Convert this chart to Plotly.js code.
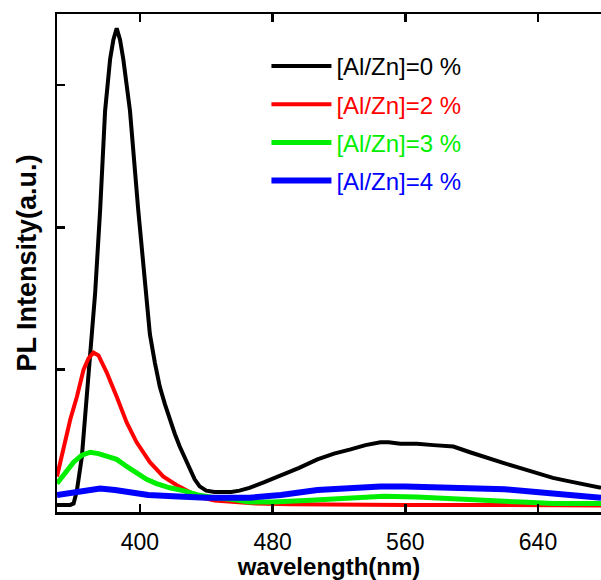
<!DOCTYPE html>
<html>
<head>
<meta charset="utf-8">
<script src="https://cdn.plot.ly/plotly-3.0.1.min.js"></script>
<style>html,body{margin:0;padding:0;background:#fff;}#chart{width:601px;height:580px;}</style>
</head>
<body>
<div id="chart"></div>
<script>
// Series names
const seriesNames = ["[Al/Zn]=0 %", "[Al/Zn]=2 %", "[Al/Zn]=3 %", "[Al/Zn]=4 %"];

// [Al/Zn]=0 %
const wl0 = [350,355,358,360,362,365,368,371,373,376,379,382,384,386,388,390,394,399,404,406,409,412,415,418,421,424,427,430,433,436,440,445,450,455,460,466,475,486,496,507,517,527,536,545,550,557,567,577,589,599,609,619,629,639,649,659,669,678];
const pl0 = [0.05,0.05,0.05,0.06,0.15,0.39,0.81,1.18,1.54,2.12,2.82,3.18,3.32,3.40,3.32,3.18,2.82,2.12,1.54,1.25,1.05,0.88,0.76,0.65,0.55,0.46,0.38,0.30,0.23,0.18,0.15,0.14,0.14,0.14,0.15,0.17,0.21,0.26,0.31,0.37,0.41,0.44,0.47,0.49,0.49,0.48,0.48,0.47,0.46,0.42,0.38,0.345,0.31,0.275,0.24,0.215,0.19,0.17];

// [Al/Zn]=2 %
const wl2 = [350,354,358,362,366,369,372,375,380,386,392,398,406,414,422,430,438,445,455,470,490,520,560,600,640,678];
const pl2 = [0.25,0.46,0.65,0.81,1.0,1.08,1.12,1.1,0.98,0.81,0.63,0.49,0.35,0.25,0.19,0.14,0.10,0.08,0.07,0.06,0.055,0.05,0.05,0.05,0.045,0.045];

// [Al/Zn]=3 %
const wl3 = [350,355,360,365,370,375,380,386,392,398,404,410,418,426,435,445,455,466,480,500,515,527,547,567,590,609,630,649,678];
const pl3 = [0.2,0.28,0.35,0.4,0.42,0.41,0.39,0.37,0.32,0.27,0.23,0.2,0.17,0.15,0.12,0.1,0.09,0.07,0.07,0.08,0.09,0.1,0.11,0.105,0.095,0.085,0.07,0.06,0.06];

// [Al/Zn]=4 %
const wl4 = [350,360,370,376,385,395,405,420,440,466,485,507,527,545,560,577,600,620,649,678];
const pl4 = [0.12,0.14,0.16,0.165,0.155,0.14,0.12,0.11,0.1,0.1,0.12,0.155,0.17,0.18,0.18,0.175,0.17,0.16,0.13,0.1];

const xTicks = [400, 480, 560, 640];
const yTicks = [0, 1, 2, 3];

const colors = ["#000000", "#ff0000", "#00ee00", "#0000ff"];
const widths = [4, 4, 5, 6];
const xs = [wl0, wl2, wl3, wl4];
const ys = [pl0, pl2, pl3, pl4];

const traces = seriesNames.map((n, i) => ({
  x: xs[i], y: ys[i], type: 'scatter', mode: 'lines',
  name: '<span style="color:' + colors[i] + '">' + n + '</span>',
  legendgroup: 'g' + i,
  line: {color: colors[i], width: widths[i]}
}));

const layout = {
  width: 601, height: 580,
  margin: {l: 57, r: 0, t: 14, b: 68},
  paper_bgcolor: '#fff', plot_bgcolor: '#fff',
  font: {family: 'Liberation Sans, Arial, sans-serif', color: '#000'},
  showlegend: true,
  legend: {
    x: 0.385, y: 0.94, xanchor: 'left', yanchor: 'top',
    font: {size: 24, family: 'Liberation Sans, Arial, sans-serif'},
    bgcolor: 'rgba(0,0,0,0)', tracegroupgap: 4, itemwidth: 60
  },
  xaxis: {
    range: [350, 678], tickvals: xTicks, ticktext: xTicks.map(String),
    showline: true, linewidth: 2.5, linecolor: '#000', mirror: 'allticks',
    ticks: 'inside', ticklen: 8, tickwidth: 2.5, tickcolor: '#000',
    showgrid: false, zeroline: false,
    tickfont: {size: 23}, ticklabelstandoff: 8,
    title: {text: 'wavelength(nm)', font: {size: 24, weight: 'bold'}, standoff: 4}
  },
  yaxis: {
    range: [0, 3.5], tickvals: yTicks, showticklabels: false,
    showline: true, linewidth: 2.5, linecolor: '#000',
    ticks: 'inside', ticklen: 8, tickwidth: 2.5, tickcolor: '#000',
    showgrid: false, zeroline: false,
    title: {text: 'PL Intensity(a.u.)', font: {size: 27, weight: 'bold'}, standoff: 10}
  }
};

Plotly.newPlot('chart', traces, layout, {displayModeBar: false, staticPlot: true});
</script>
</body>
</html>
